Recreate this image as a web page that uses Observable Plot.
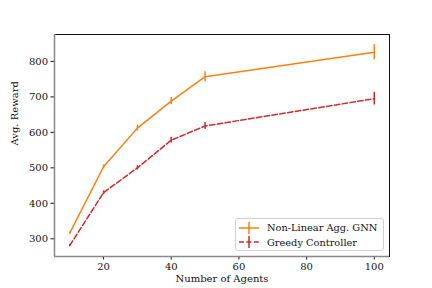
<!DOCTYPE html>
<html>
<head>
<meta charset="utf-8">
<script src="https://cdn.jsdelivr.net/npm/d3@7"></script>
<script src="https://cdn.jsdelivr.net/npm/@observablehq/plot@0.6"></script>
<style>
  body { margin: 0; background: #fff; }
  #wrap { position: relative; width: 432px; height: 288px; font-family: "DejaVu Serif", serif; }
  #legend { position: absolute; left: 235px; top: 218px; width: 149px; height: 33px; border: 1px solid #d0d0d0; border-radius: 3px; background: rgba(255,255,255,0.85); font-size: 9.8px; color: #111; box-sizing: border-box; }
  .row { position: absolute; left: 2px; height: 14px; display: flex; align-items: center; }
  .row span { margin-left: 7px; white-space: nowrap; }
</style>
</head>
<body>
<div id="wrap"></div>
<script>
const agents = [10, 20, 30, 40, 50, 100];
const gnnReward = [316, 503, 612, 688, 757, 826];
const gnnErr = [3, 5, 8, 10, 14, 21];
const greedyReward = [281, 430, 500, 578, 618, 695];
const greedyErr = [3, 5, 6, 8, 10, 18];
const seriesNames = ["Non-Linear Agg. GNN", "Greedy Controller"];
const seriesColors = ["#ff7f0e", "#d62728"];
const xTicks = [20, 40, 60, 80, 100];
const yTicks = [300, 400, 500, 600, 700, 800];

const gnn = agents.map((a, i) => ({x: a, y: gnnReward[i], e: gnnErr[i]}));
const greedy = agents.map((a, i) => ({x: a, y: greedyReward[i], e: greedyErr[i]}));
const xDom = [5.5, 104.5];
const yDom = [250, 876];

const chart = Plot.plot({
  width: 432, height: 288,
  marginLeft: 54, marginRight: 43, marginTop: 34, marginBottom: 32,
  style: {fontFamily: "DejaVu Serif, serif", fontSize: "10px", color: "#111", background: "white"},
  x: {domain: xDom, ticks: xTicks, tickSize: 3.5, tickPadding: 3, label: null},
  y: {domain: yDom, ticks: yTicks, tickSize: 3.5, tickPadding: 3, label: null},
  marks: [
    Plot.frame({stroke: "#111", strokeWidth: 1}),
    Plot.ruleX([xDom[0]], {stroke: "#888", strokeWidth: 1.5}),
    Plot.ruleY([yDom[0]], {stroke: "#888", strokeWidth: 1.5}),
    Plot.lineY(greedy, {x: "x", y: "y", stroke: seriesColors[1], strokeWidth: 1.5, strokeDasharray: "5.5,2.4"}),
    Plot.ruleX(greedy, {x: "x", y1: d => d.y - d.e, y2: d => d.y + d.e, stroke: seriesColors[1], strokeWidth: 1.5}),
    Plot.lineY(gnn, {x: "x", y: "y", stroke: seriesColors[0], strokeWidth: 1.5}),
    Plot.ruleX(gnn, {x: "x", y1: d => d.y - d.e, y2: d => d.y + d.e, stroke: seriesColors[0], strokeWidth: 1.5}),
    Plot.text(["Number of Agents"], {frameAnchor: "bottom", dy: 25, fontSize: 10}),
    Plot.text(["Avg. Reward"], {frameAnchor: "left", dx: -40, rotate: -90, fontSize: 10})
  ]
});
const wrap = document.getElementById("wrap");
wrap.appendChild(chart);

const legend = document.createElement("div");
legend.id = "legend";
seriesNames.forEach((name, i) => {
  const row = document.createElement("div");
  row.className = "row";
  row.style.top = (1.5 + i * 14.5) + "px";
  const dash = i === 1 ? 'stroke-dasharray="5,2.4"' : "";
  row.innerHTML = `<svg width="22" height="14"><line x1="1" y1="7" x2="21" y2="7" stroke="${seriesColors[i]}" stroke-width="1.5" ${dash}/><line x1="11" y1="1" x2="11" y2="13" stroke="${seriesColors[i]}" stroke-width="1.5"/></svg><span>${name}</span>`;
  legend.appendChild(row);
});
wrap.appendChild(legend);
</script>
</body>
</html>
